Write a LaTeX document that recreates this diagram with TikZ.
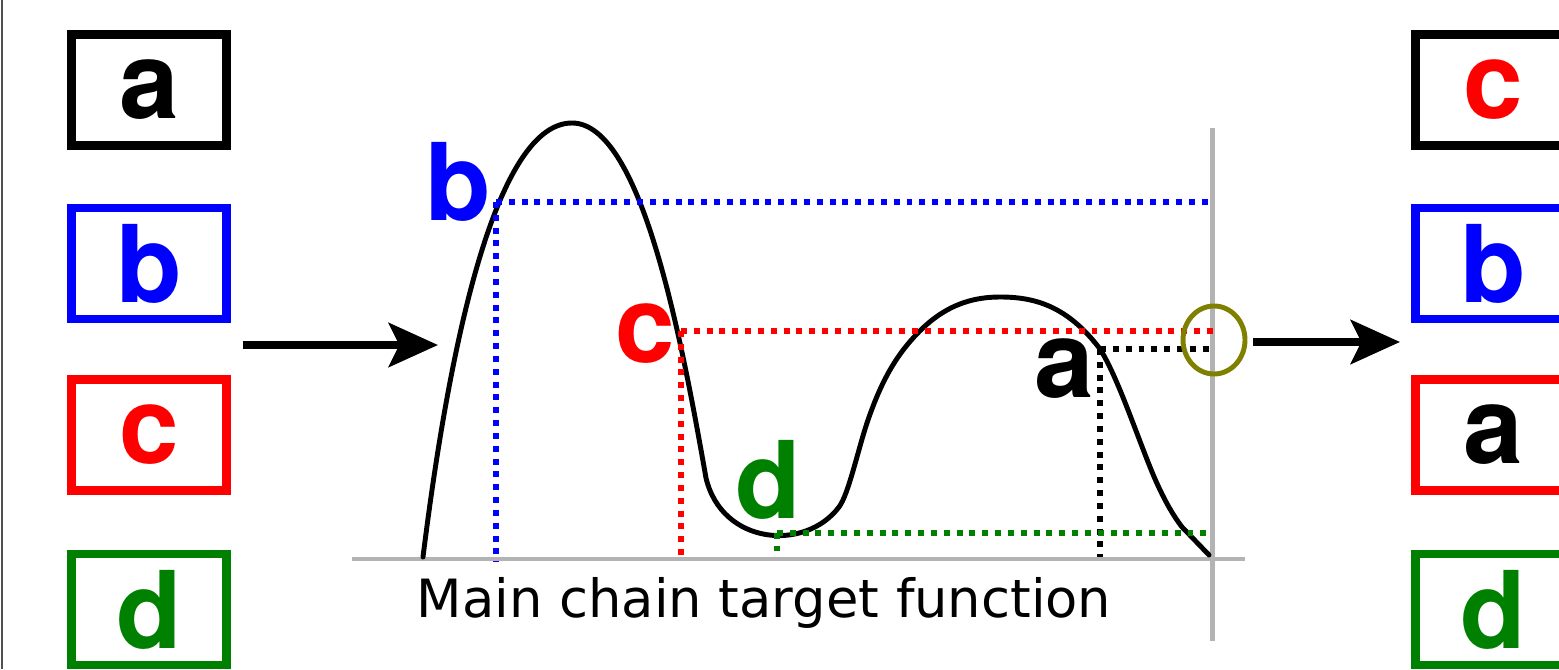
\documentclass[tikz,border=0pt]{standalone}
\usepackage{fontspec}
\newfontfamily\lblfont{texgyreheros-bold}[Extension=.otf]
\newfontfamily\capfont{DejaVu Sans}
\usetikzlibrary{arrows.meta}
\definecolor{axisgray}{HTML}{B3B3B3}
\definecolor{framegray}{HTML}{505050}
\definecolor{cblue}{HTML}{0000FF}
\definecolor{cred}{HTML}{FF0000}
\definecolor{cgreen}{HTML}{008000}
\definecolor{colive}{HTML}{808000}
\tikzset{
  every picture/.style={line join=round, >={Stealth[length=28pt,width=25pt,inset=6pt]}},
  box/.style={draw, line width=4.6pt, line join=miter, minimum width=3.10cm, minimum height=2.22cm, inner sep=0pt, font=\lblfont\fontsize{61}{61}\selectfont},
  lbl/.style={inner sep=0pt, font=\lblfont\fontsize{61}{61}\selectfont},
  guide/.style={line width=3.4pt, dash pattern=on 3.4pt off 3.9pt},
  curve/.style={line width=2.8pt, line cap=round},
  axis/.style={axisgray, line width=2.8pt},
  flow/.style={->, line width=4.5pt},
}
\begin{document}
\begin{tikzpicture}
\useasboundingbox (0,0) rectangle (31.18,13.38);
\clip (0,0) rectangle (31.18,13.38);
\draw[framegray, line width=1.2pt] (0.04,0) -- (0.04,13.38);
% input population
\node[box] (inA) at (2.98,11.58) {a};
\node[box,cblue,text=cblue] (inB) at (2.98,8.11) {b};
\node[box,cred,text=cred] (inC) at (2.98,4.68) {c};
\node[box,cgreen,text=cgreen] (inD) at (2.98,1.19) {d};
% output population
\node[box,text=cred] (outC) at (29.86,11.58) {c};
\node[box,cblue,text=cblue] (outB) at (29.86,8.11) {b};
\node[box,cred,text=black] (outA) at (29.86,4.68) {a};
\node[box,cgreen,text=cgreen] (outD) at (29.86,1.19) {d};
% axes
\draw[axis] (7.04,2.20) -- (24.90,2.20);
\draw[axis] (24.25,10.82) -- (24.25,0.56);
% target function
\draw[curve] (8.46,2.24) .. controls (8.90,5.78) and (9.80,10.92) .. (11.44,10.92)
  .. controls (12.80,10.92) and (13.60,6.78) .. (14.12,3.82)
  .. controls (14.44,2.48) and (16.10,2.34) .. (16.78,3.24)
  .. controls (16.974,3.496) and (17.166,4.42) .. (17.36,4.98)
  .. controls (17.666,5.87) and (17.974,6.302) .. (18.28,6.64)
  .. controls (18.854,7.27) and (19.426,7.44) .. (20.00,7.44)
  .. controls (20.666,7.44) and (21.334,7.28) .. (22.00,6.40)
  .. controls (22.334,5.866) and (22.666,4.874) .. (23.00,4.04)
  .. controls (23.214,3.506) and (23.426,3.118) .. (23.64,2.84)
  -- (24.18,2.28);
% sample points
\coordinate (pb) at (9.92,9.34);
\coordinate (pc) at (13.62,6.76);
\coordinate (pa) at (22.00,6.40);
\coordinate (pd) at (15.54,2.72);
\draw[guide,cblue] (pb) -- (pb -| 24.25,0) (pb) -- (9.92,2.14);
\draw[guide,cred] (pc) -- (pc -| 24.25,0) (pc) -- (13.62,2.28);
\draw[guide] (pa) -- (pa -| 24.25,0) (pa) -- (22.00,2.24);
\draw[guide,cgreen] (pd) -- (pd -| 24.25,0) (pd) -- (15.54,2.36);
\draw[colive, line width=2.8pt] (24.28,6.58) ellipse [x radius=0.62, y radius=0.68];
% labels
\node[lbl,cblue] (lb) at (9.16,9.74) {b};
\node[lbl,cred] (lc) at (12.90,6.70) {c};
\node[lbl] (la) at (21.28,6.00) {a};
\node[lbl,cgreen] (ld) at (15.36,3.78) {d};
\node[font=\capfont\fontsize{30}{30}\selectfont, anchor=base] (cap) at (15.28,1.04) {Main chain target function};
% selection arrows
\coordinate (in0) at (4.86,6.48);
\coordinate (in1) at (8.76,6.48);
\coordinate (out0) at (25.06,6.54);
\coordinate (out1) at (28.00,6.54);
\draw[flow] (in0) -- (in1);
\draw[flow] (out0) -- (out1);
\end{tikzpicture}
\end{document}
